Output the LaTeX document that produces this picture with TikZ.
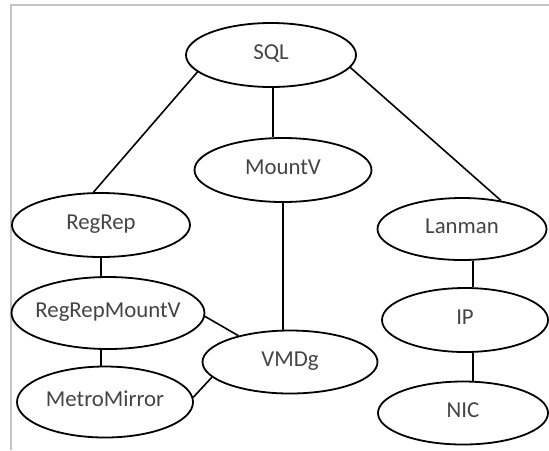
\documentclass[tikz,border=0pt]{standalone}
\usepackage{fontspec}
\setsansfont{Carlito}
\newcommand{\sansall}{\sffamily}
\usepackage{xcolor}
\usepackage{tikz}
\usetikzlibrary{shapes.geometric}
\definecolor{txt}{HTML}{444444}
\definecolor{frame}{HTML}{C4C4C4}
\newcommand{\rname}[1]{\makebox[0pt]{#1}}
\tikzset{
  res/.style={ellipse, draw=black, line width=0.9pt, inner sep=0pt,
              text height=6pt, text depth=1.2pt, text=txt,
              font=\sansall\fontsize{11.4}{13}\selectfont},
  dep/.style={line width=0.8pt, draw=black},
  frm/.style={line width=1pt, draw=frame},
}

\begin{document}
\begin{tikzpicture}[x=0.5pt, y=-0.5pt]
\useasboundingbox (0,0) rectangle (549,450);

% ---- frame ----
\draw[frm] (11,450) -- (11,5) -- (549,5);

% ---- TOP ----
\node[res, minimum width=85pt,   minimum height=32pt]   (SQL)    at (271,55)  {\rname{SQL}};
\node[res, minimum width=88.5pt, minimum height=32pt]   (MountV) at (283,170) {\rname{MountV}};

% ---- LEFT ----
\node[res, minimum width=89pt,   minimum height=32pt]   (RegRep) at (101,225) {\rname{RegRep}};
\node[res, minimum width=96.5pt, minimum height=36pt]   (RRMV)   at (108,313) {\rname{RegRepMountV}};
\node[res, minimum width=88pt,   minimum height=35.5pt] (MMir)   at (105,402) {\rname{MetroMirror}};
\node[res, minimum width=87.5pt, minimum height=31.5pt] (VMDg)   at (290,362) {\rname{VMDg}};

% ---- RIGHT ----
\node[res, minimum width=84.5pt, minimum height=31pt]   (Lanman) at (462,229) {\rname{Lanman}};
\node[res, minimum width=83pt,   minimum height=32pt]   (IP)     at (465,320) {\rname{IP}};
\node[res, minimum width=85pt,   minimum height=31.5pt] (NIC)    at (463,413) {\rname{NIC}};

% ---- edges ----
\draw[dep] (SQL.193) -- (RegRep.103);
\draw[dep] ([xshift=1pt]SQL.south) -- ([xshift=1pt]SQL.south |- MountV.north);
\draw[dep] (SQL.-9) -- (Lanman.36);

\draw[dep] (MountV.south) -- (MountV.south |- VMDg.north);
\draw[dep] (RegRep.south) -- (RegRep.south |- RRMV.north);
\draw[dep] (RegRep.south |- RRMV.south) -- (RegRep.south |- MMir.north);
\draw[dep] (RRMV.-2) -- (VMDg.153);
\draw[dep] (MMir.3) -- (VMDg.191);

\draw[dep] ([xshift=5.5pt]Lanman.south) -- ([xshift=5.5pt]Lanman.south |- IP.north);
\draw[dep] ([xshift=4pt]IP.south) -- ([xshift=4pt]IP.south |- NIC.north);

\end{tikzpicture}
\end{document}
